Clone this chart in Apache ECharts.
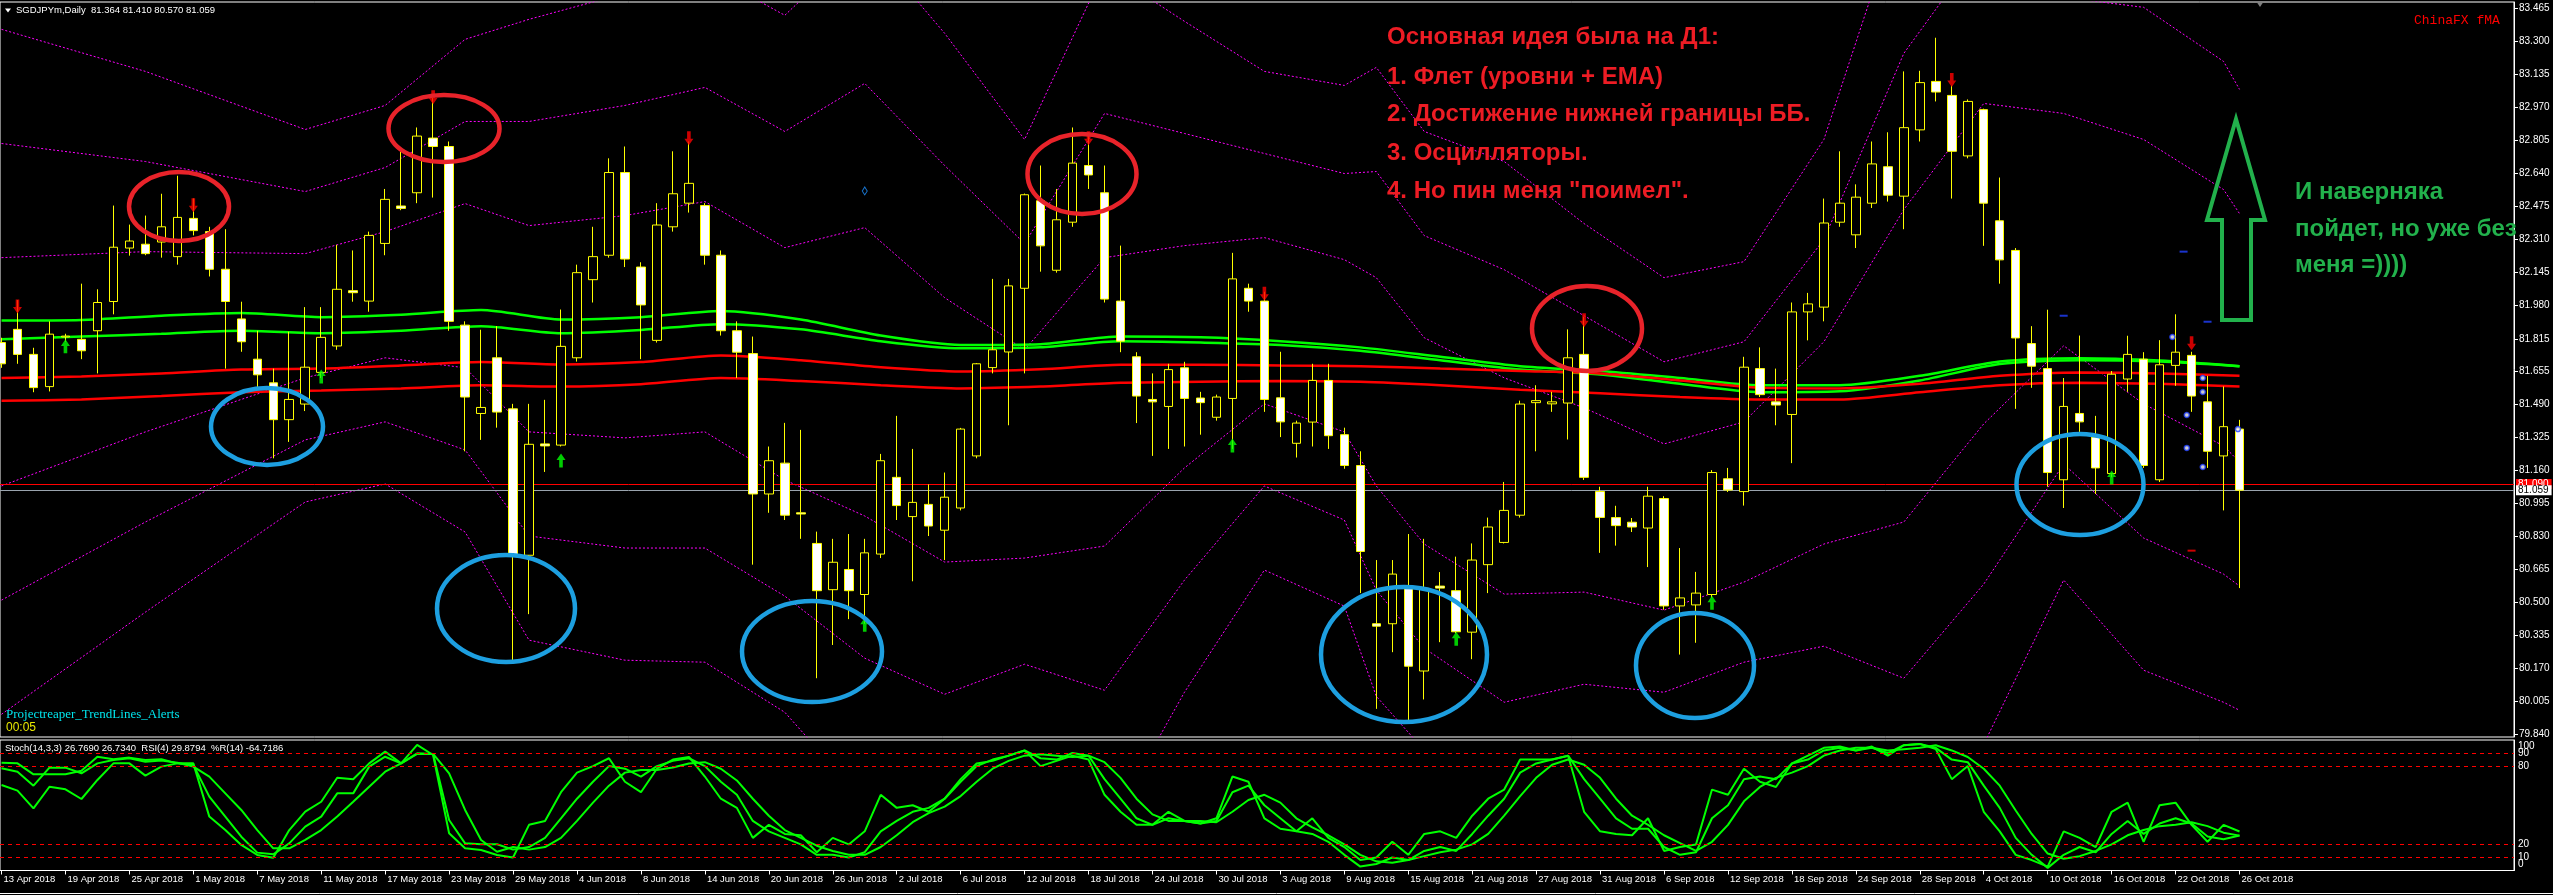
<!DOCTYPE html>
<html><head><meta charset="utf-8"><title>SGDJPYm Daily</title>
<script src="https://cdn.jsdelivr.net/npm/echarts@6.0.0/dist/echarts.min.js"></script>
<style>html,body{margin:0;padding:0;background:#000;overflow:hidden}#chart{width:2553px;height:895px}</style>
</head><body><div id="chart"></div>
<script>
// ---------------- DATA ----------------
const xTickLabels = ["13 Apr 2018","19 Apr 2018","25 Apr 2018","1 May 2018","7 May 2018","11 May 2018","17 May 2018","23 May 2018","29 May 2018","4 Jun 2018","8 Jun 2018","14 Jun 2018","20 Jun 2018","26 Jun 2018","2 Jul 2018","6 Jul 2018","12 Jul 2018","18 Jul 2018","24 Jul 2018","30 Jul 2018","3 Aug 2018","9 Aug 2018","15 Aug 2018","21 Aug 2018","27 Aug 2018","31 Aug 2018","6 Sep 2018","12 Sep 2018","18 Sep 2018","24 Sep 2018","28 Sep 2018","4 Oct 2018","10 Oct 2018","16 Oct 2018","22 Oct 2018","26 Oct 2018"];
const yTickLabels = ["83.465","83.300","83.135","82.970","82.805","82.640","82.475","82.310","82.145","81.980","81.815","81.655","81.490","81.325","81.160","80.995","80.830","80.665","80.500","80.335","80.170","80.005","79.840"];
const oscInnerTicks = [10,20,80,90];
const oscEdgeTicks = ["0","100"];
const oscLevels = [10,20,80,90];

const open = [81.796,81.862,81.737,81.576,81.824,81.812,81.855,82.001,82.268,82.287,
82.298,82.225,82.416,82.35,82.162,81.914,81.713,81.595,81.411,81.489,
81.647,81.779,82.055,82.003,82.291,82.478,82.544,82.817,82.775,81.883,
81.442,81.72,81.465,80.734,81.29,81.284,81.72,82.11,82.232,82.645,
82.173,81.807,82.374,82.492,82.48,82.232,81.855,81.741,81.04,81.194,
80.946,80.793,80.562,80.663,80.538,80.74,81.123,80.927,80.988,80.859,
80.97,81.23,81.671,81.749,82.067,82.504,82.157,82.397,82.68,82.544,
82.003,81.725,81.512,81.477,81.67,81.519,81.423,81.517,82.067,82.003,
81.52,81.293,81.399,81.607,81.336,81.182,80.392,80.392,80.569,80.156,
80.58,80.557,80.35,80.687,80.798,80.934,81.496,81.49,81.494,81.737,
81.052,80.922,80.899,80.87,81.017,80.481,80.486,80.538,81.116,81.052,
81.666,81.5,81.437,81.949,81.973,82.397,82.334,82.492,82.674,82.527,
82.858,83.1,83.03,82.728,82.959,82.404,82.256,81.791,81.666,81.111,
81.442,81.324,81.142,81.614,81.713,81.111,81.682,81.732,81.5,81.23,
81.364];
const close = [81.690,81.737,81.571,81.838,81.828,81.755,81.996,82.272,82.303,82.24,
82.374,82.421,82.355,82.162,82.001,81.80,81.635,81.411,81.512,81.673,
81.822,82.062,82.045,82.331,82.511,82.466,82.827,82.775,81.902,81.524,
81.472,81.449,80.734,81.288,81.28,81.777,82.145,82.225,82.645,82.213,
81.984,82.383,82.539,82.591,82.232,81.855,81.748,81.04,81.206,80.934,
80.94,80.557,80.699,80.557,80.746,81.206,80.982,80.998,80.88,81.024,
81.364,81.69,81.76,82.079,82.534,82.279,82.409,82.692,82.633,82.013,
81.803,81.529,81.5,81.661,81.517,81.496,81.524,82.114,82.003,81.512,
81.40,81.394,81.607,81.331,81.182,80.753,80.38,80.64,80.18,80.569,
80.57,80.352,80.71,80.875,80.958,81.489,81.506,81.5,81.72,81.123,
80.923,80.882,80.875,81.029,80.481,80.521,80.545,81.147,81.06,81.673,
81.536,81.484,81.949,81.989,82.393,82.492,82.522,82.688,82.532,82.869,
83.094,83.047,82.751,83.0,82.492,82.209,81.819,81.678,81.147,81.477,
81.4,81.17,81.638,81.737,81.182,81.685,81.748,81.529,81.253,81.376,
81.059];
const high = [81.82,82.008,81.77,81.902,81.84,82.09,82.062,82.48,82.385,82.43,
82.539,82.629,82.515,82.374,82.362,82.0,81.855,81.666,81.85,81.973,
81.973,82.284,82.256,82.35,82.563,82.75,82.87,83.018,82.80,81.902,
81.86,81.878,81.49,81.49,81.51,81.961,82.185,82.374,82.716,82.775,
82.197,82.492,82.751,82.80,82.492,82.256,81.902,81.826,81.277,81.395,
81.36,80.852,80.816,80.84,80.816,81.24,81.43,81.265,81.088,81.147,
81.37,81.694,82.114,82.114,82.54,82.68,82.563,82.87,82.846,82.68,
82.28,81.748,81.642,81.69,81.70,81.55,81.536,82.244,82.09,82.05,
81.75,81.406,81.69,81.69,81.371,81.253,80.71,80.71,80.84,80.816,
80.65,80.727,80.793,80.922,81.1,81.506,81.583,81.55,81.862,81.925,
81.076,80.981,80.92,81.076,81.029,80.77,80.651,81.159,81.17,81.725,
81.772,81.666,81.996,82.044,82.515,82.751,82.586,82.80,82.846,83.15,
83.153,83.318,83.08,83.01,82.964,82.62,82.268,81.878,81.96,81.619,
81.831,81.43,81.654,81.83,81.748,81.808,81.937,81.75,81.63,81.577,
81.41];
const low = [81.67,81.69,81.548,81.552,81.80,81.713,81.642,81.937,82.23,82.232,
82.22,82.185,82.331,82.126,81.666,81.75,81.572,81.218,81.30,81.454,
81.619,81.76,82.0,81.95,82.232,82.457,82.492,82.52,81.855,81.253,
81.31,81.371,80.203,80.44,81.15,81.277,81.701,81.996,82.22,82.173,
81.713,81.796,82.35,82.445,82.185,81.831,81.619,80.687,80.946,80.91,
80.816,80.12,80.286,80.415,80.392,80.72,80.91,80.604,80.83,80.71,
80.958,81.218,81.642,81.383,81.642,82.15,82.145,82.374,82.563,81.996,
81.748,81.394,81.23,81.265,81.277,81.336,81.406,81.265,81.95,81.45,
81.324,81.222,81.277,81.265,81.166,80.545,79.967,80.25,79.91,80.014,
80.30,80.344,80.215,80.545,80.793,80.922,81.253,81.45,81.312,81.11,
80.746,80.782,80.85,80.675,80.462,80.238,80.297,80.522,81.05,80.982,
81.524,81.383,81.194,81.807,81.902,82.374,82.268,82.468,82.5,82.362,
82.8,83.0,82.515,82.716,82.279,82.09,81.465,81.57,81.076,80.97,
81.35,81.04,81.123,81.55,81.17,81.1,81.58,81.45,81.17,80.958,
80.57];

// moving averages, read every 5 bars
const maBars = [0,5,10,15,20,25,30,35,40,45,50,55,60,65,70,75,80,85,90,95,100,105,110,115,120,125,130,135,140];
const maGreenFast = [81.906,81.909,81.930,81.944,81.923,81.935,81.958,81.911,81.923,81.954,81.911,81.831,81.784,81.788,81.826,81.822,81.803,81.772,81.725,81.678,81.654,81.619,81.583,81.583,81.630,81.701,81.718,81.706,81.678];
const maGreenSlow = [81.812,81.826,81.840,81.855,81.843,81.855,81.878,81.843,81.859,81.888,81.862,81.803,81.767,81.772,81.803,81.796,81.784,81.755,81.708,81.661,81.637,81.590,81.548,81.553,81.607,81.689,81.708,81.701,81.678];
const maRedFast = [81.619,81.626,81.642,81.661,81.666,81.682,81.699,81.687,81.699,81.732,81.708,81.673,81.652,81.663,81.685,81.685,81.682,81.678,81.666,81.654,81.642,81.607,81.571,81.567,81.590,81.630,81.647,81.642,81.630];
const maRedSlow = [81.505,81.512,81.529,81.548,81.557,81.567,81.583,81.576,81.588,81.619,81.604,81.583,81.567,81.576,81.595,81.600,81.604,81.600,81.583,81.560,81.543,81.524,81.512,81.512,81.548,81.583,81.595,81.590,81.576];

// bands (magenta dotted lines), read at these bars
const bandBars = [0,9,19,24,29,33,39,44,49,54,59,64,69,74,79,84,86,89,94,99,104,109,114,119,124,129,134,139,140];
const bandUp1 = [82.22,82.25,82.24,82.35,82.49,82.38,82.43,82.50,82.27,82.37,82.02,81.76,82.22,82.28,82.32,82.21,82.12,81.82,81.62,81.47,81.29,81.40,81.80,82.46,82.99,82.94,82.81,82.56,82.44];
const bandUp2 = [82.79,82.70,82.55,82.67,82.90,82.90,82.98,83.07,82.85,83.09,82.68,82.29,82.94,82.84,82.74,82.64,82.65,82.33,82.16,81.93,81.70,81.80,82.31,83.24,83.79,83.52,83.47,83.20,83.06];
const bandUp3 = [83.36,83.15,82.86,82.98,83.31,83.41,83.54,83.65,83.43,83.81,83.34,82.81,83.66,83.40,83.15,83.08,83.17,82.85,82.70,82.39,82.12,82.20,82.81,84.02,84.59,84.11,84.13,83.84,83.68];
const bandLo1 = [81.08,81.35,81.62,81.72,81.67,81.35,81.32,81.35,81.11,80.93,80.70,80.72,80.78,81.17,81.49,81.35,81.08,80.79,80.54,80.55,80.46,80.60,80.79,80.90,81.39,81.78,81.49,81.28,81.20];
const bandLo2 = [80.51,80.90,81.31,81.40,81.26,80.83,80.77,80.77,80.53,80.22,80.04,80.19,80.06,80.61,81.08,80.91,80.56,80.27,80.00,80.09,80.05,80.20,80.28,80.12,80.59,81.19,80.82,80.64,80.58];
const bandLo3 = [79.94,80.45,81.00,81.09,80.85,80.31,80.21,80.20,79.95,79.50,79.38,79.67,79.34,80.05,80.66,80.48,80.03,79.76,79.45,79.63,79.63,79.80,79.77,79.34,79.79,80.61,80.16,80.00,79.96];

const sellArrows = [[1,81.976],[12,82.482],[27,83.021],[43,82.816],[68,82.816],[79,82.04],[99,81.907],[122,83.107],[137,81.792]];
const buyArrows = [[4,81.777],[20,81.627],[35,81.207],[54,80.387],[77,81.282],[91,80.317],[107,80.497],[132,81.122]];
// small trend-line indicator marks near the last bars
const trendDots = [[135.8,81.824],[136.7,81.434],[136.7,81.27],[137.7,81.619],[137.7,81.549],[137.7,81.175],[139.9,81.364]];
const blueDashes = [[136.5,82.25],[129,81.93],[138,81.90]];
const redDashes = [[137,80.757]];
const levelLine = 81.090;
const bidLine = 81.059;

const rsi4 = [65.5,61.2,47.6,64.2,62.2,54.8,69.4,82.1,82.1,72.7,
79.6,82.1,82.1,41.3,31.0,19.6,11.9,9.8,31.0,45.1,
52.7,71.1,69.9,82.1,91.1,82.1,96.2,88.5,28.5,17.0,
15.7,11.9,10,35,38,60,75,80,86,68,
60,78,85,87,72,55,48,25,35,28,
27,14,25,20,30,58,48,50,45,55,
70,82,84,88,92,80,84,88,85,58,
45,35,35,45,38,36,40,72,68,40,
32,30,40,25,18,8,10,22,12,28,
30,25,42,55,62,85,85,85,88,45,
30,28,27,40,15,18,20,62,58,78,
68,64,82,85,92,94,92,95,88,96,
97,93,70,80,45,30,12,8,3,30,
25,18,45,52,22,50,52,35,22,35,
29.88];
const stochMain = [82.6,82.1,73.7,73.7,73.7,76.5,87.2,85.2,86.5,84.7,
85.2,82.1,80.8,56.6,41.3,25.9,13.7,12.4,20.8,33.6,
41.3,59.1,59.1,79.6,87.2,82.1,89.8,89.3,38.7,20.8,
20.1,20.1,16,18,25,40,55,68,80,78,
72,80,84,86,80,68,58,38,30,25,
20,12,12,10,14,30,38,45,48,55,
68,80,85,88,92,86,85,90,88,70,
55,40,35,40,38,36,38,60,65,50,
40,30,28,22,12,3,5,10,8,15,
18,15,28,42,55,75,82,85,88,70,
55,40,32,32,18,12,14,40,50,70,
72,70,82,88,94,95,92,94,90,96,
97,94,85,83,65,48,25,12,2,12,
18,14,28,38,28,36,40,36,26,24,
26.77];
const stochSignal = [78.3,75.7,65.0,78.8,78.8,74.5,82.1,84.7,86.0,83.4,
84.2,82.6,79.6,71.9,59.1,46.4,31.0,17.0,17.0,23.4,
31.0,41.3,52.7,64.2,75.7,82.1,89.3,89.3,74.5,46.4,
23.4,14.4,18,16,18,25,38,52,65,75,
77,77,79,82,83,78,69,55,42,31,
25,19,15,12,12,18,27,37,44,49,
57,68,78,84,88,89,88,87,88,83,
71,55,43,38,38,38,37,45,54,58,
52,40,33,27,20,12,7,6,8,11,
14,16,20,28,42,57,71,81,85,81,
71,55,42,35,27,21,15,22,35,53,
64,71,75,80,88,92,94,94,92,93,
94,96,92,87,78,65,46,28,13,9,
11,15,20,27,31,34,35,37,34,29,
26.73];

// ---------------- CHART ----------------
const chart = echarts.init(document.getElementById('chart'), null, {renderer:'canvas', width:2553, height:895});
const FONT = "'Liberation Sans',Arial,sans-serif";
const X_MIN = -0.094, X_MAX = 157.17;
const xTickPos = xTickLabels.map((_, k) => k * 4);
const yTickVals = yTickLabels.map(Number);
// MT4 prints the window's 0 / 100 captions just inside the frame
const oscEdgePos = [4.6, 95.4];
const pairs = (xs, ys) => xs.map((x, k) => [x, ys[k]]);
const idx = a => a.map((v, i) => [i, v]);
const candles = open.map((o, i) => [i, o, close[i], low[i], high[i]]);

function bandSeries(arr) {
  return {type:'line', xAxisIndex:0, yAxisIndex:0, data:pairs(bandBars, arr), showSymbol:false, silent:true,
    lineStyle:{color:'#FF00FF', width:1, type:[2,2]}, z:1};
}
function maSeries(arr, color) {
  return {type:'line', xAxisIndex:0, yAxisIndex:0, data:pairs(maBars, arr), showSymbol:false, silent:true, smooth:0.25,
    lineStyle:{color:color, width:2.5}, z:2};
}
function oscSeries(arr, extra) {
  return Object.assign({type:'line', xAxisIndex:1, yAxisIndex:1, data:idx(arr), showSymbol:false, silent:true,
    lineStyle:{color:'#00FF00', width:2}, z:3}, extra || {});
}

const redC = '#E8232A', blueC = '#1D9FE0';
const ellipses = [
  [179,206.5,50,34.5,redC],[444,128.5,55.5,33.5,redC],[1082,174,54.5,40,redC],[1587,328.5,55,42.5,redC],
  [267,426.5,56,38.5,blueC],[506,608.5,69,53.5,blueC],[812,651.5,70,50.5,blueC],[1404,654.5,83,67.5,blueC],
  [1695,665.5,59,52.5,blueC],[2080,484.5,63.5,50.5,blueC]
];
const redLines = ["Основная идея была на Д1:","1. Флет (уровни + EMA)","2. Достижение нижней границы ББ.","3. Осцилляторы.","4. Но пин меня \"поимел\"."];
const redY = [37.5,77,114.5,153.5,191];
const greenLines = ["И наверняка","пойдет, но уже без","меня =))))"];
const greenY = [192,229,265];

const graphics = [];
ellipses.forEach(e => graphics.push({type:'ellipse', shape:{cx:e[0], cy:e[1], rx:e[2], ry:e[3]}, style:{fill:null, stroke:e[4], lineWidth:4.5}, z:60, silent:true}));
redLines.forEach((t,k) => graphics.push({type:'text', x:1387, y:redY[k], style:{text:t, fill:'#ED1C24', font:"bold 24px 'Liberation Sans',Arial,sans-serif", verticalAlign:'middle'}, z:70, silent:true}));
greenLines.forEach((t,k) => graphics.push({type:'text', x:2295, y:greenY[k], style:{text:t, fill:'#22B14C', font:"bold 24px 'Liberation Sans',Arial,sans-serif", verticalAlign:'middle'}, z:70, silent:true}));
graphics.push({type:'polygon', shape:{points:[[2236,119],[2265,220],[2251,220],[2251,320],[2222,320],[2222,220],[2207,220]]}, style:{fill:null, stroke:'#22B14C', lineWidth:4}, z:65, silent:true});
graphics.push({type:'polygon', shape:{points:[[5,8.5],[11,8.5],[8,12.5]]}, style:{fill:'#fff'}, z:70, silent:true});
graphics.push({type:'text', x:16, y:10.5, style:{text:'SGDJPYm,Daily  81.364 81.410 80.570 81.059', fill:'#fff', font:"9.5px " + FONT, verticalAlign:'middle'}, z:70, silent:true});
graphics.push({type:'text', x:2414, y:20.5, style:{text:'ChinaFX fMA', fill:'#FF0000', font:"13px 'Liberation Mono','Courier New',monospace", verticalAlign:'middle'}, z:70, silent:true});
graphics.push({type:'text', x:6, y:715, style:{text:'Projectreaper_TrendLines_Alerts', fill:'#00E5EE', font:"13px 'Liberation Serif','Times New Roman',serif", verticalAlign:'middle'}, z:70, silent:true});
graphics.push({type:'text', x:6, y:727.5, style:{text:'00:05', fill:'#E6E600', font:"12px 'Liberation Sans',Arial,sans-serif", verticalAlign:'middle'}, z:70, silent:true});
graphics.push({type:'text', x:5, y:748, style:{text:'Stoch(14,3,3) 26.7690 26.7340  RSI(4) 29.8794  %R(14) -64.7186', fill:'#fff', font:"9.5px " + FONT, verticalAlign:'middle'}, z:70, silent:true});
graphics.push({type:'polygon', shape:{points:[[2256,1],[2264,1],[2260,7]]}, style:{fill:'#808080'}, z:70, silent:true});
graphics.push({type:'line', shape:{x1:0, y1:893.5, x2:2553, y2:893.5}, style:{stroke:'#fff', lineWidth:1}, z:70, silent:true});

const option = {
  backgroundColor:'#000000',
  animation:false,
  grid:[
    {left:0, right:39, top:2, bottom:158, show:true, borderColor:'#FFFFFF', borderWidth:1, backgroundColor:'transparent'},
    {left:0, right:39, top:740, bottom:24.5, show:true, borderColor:'#FFFFFF', borderWidth:1, backgroundColor:'transparent'}
  ],
  xAxis:[
    {type:'value', gridIndex:0, min:X_MIN, max:X_MAX, axisLine:{show:false}, axisTick:{show:false}, axisLabel:{show:false}, splitLine:{show:false}},
    {type:'value', gridIndex:1, min:X_MIN, max:X_MAX,
      axisLine:{show:true, onZero:false, lineStyle:{color:'#FFFFFF', width:1}},
      axisTick:{show:true, customValues:xTickPos, length:4, lineStyle:{color:'#FFFFFF'}},
      axisLabel:{show:true, customValues:xTickPos, formatter:v => xTickLabels[Math.round(v/4)] || '', align:'left', margin:4, color:'#FFFFFF', fontFamily:FONT, fontSize:9.5, padding:[0,0,0,2], hideOverlap:false},
      splitLine:{show:false}}
  ],
  yAxis:[
    {type:'value', gridIndex:0, position:'right', min:79.8265, max:83.4965,
      axisLine:{show:true, onZero:false, lineStyle:{color:'#FFFFFF'}},
      axisTick:{show:true, customValues:yTickVals, length:4, lineStyle:{color:'#FFFFFF'}},
      axisLabel:{show:true, customValues:yTickVals, formatter:v => v.toFixed(3), margin:5, color:'#FFFFFF', fontFamily:FONT, fontSize:10, hideOverlap:false},
      splitLine:{show:false}},
    {type:'value', gridIndex:1, position:'right', min:0, max:100,
      axisLine:{show:true, onZero:false, lineStyle:{color:'#FFFFFF'}},
      axisTick:{show:false},
      axisLabel:{show:true, customValues:oscInnerTicks, margin:4, color:'#FFFFFF', fontFamily:FONT, fontSize:10, hideOverlap:false},
      splitLine:{show:false}},
    {type:'value', gridIndex:1, position:'right', min:0, max:100,
      axisLine:{show:false}, axisTick:{show:false},
      axisLabel:{show:true, customValues:oscEdgePos, margin:4, color:'#FFFFFF', fontFamily:FONT, fontSize:10, hideOverlap:false,
        formatter:v => oscEdgeTicks[oscEdgePos.indexOf(v)]},
      splitLine:{show:false}}
  ],
  series:[
    bandSeries(bandUp3), bandSeries(bandUp2), bandSeries(bandUp1),
    bandSeries(bandLo1), bandSeries(bandLo2), bandSeries(bandLo3),
    maSeries(maGreenFast, '#00FF00'), maSeries(maGreenSlow, '#00FF00'),
    maSeries(maRedFast, '#FF0000'), maSeries(maRedSlow, '#FF0000'),
    {type:'candlestick', xAxisIndex:0, yAxisIndex:0, data:candles, barWidth:9, silent:true, z:5,
      dimensions:['i','open','close','low','high'], encode:{x:'i', y:['open','close','low','high']},
      itemStyle:{color:'#000000', color0:'#FFFFFF', borderColor:'#FFFF00', borderColor0:'#FFFF00', borderColorDoji:'#FFFF00', borderWidth:1},
      markLine:{symbol:'none', silent:true, animation:false, precision:3,
        data:[
          {yAxis:levelLine, lineStyle:{color:'#FF0000', width:1, type:'solid'},
            label:{show:true, position:'end', distance:2, formatter:'81.090', backgroundColor:'#FF0000', color:'#FFFFFF', fontFamily:FONT, fontSize:10, padding:[0,3,0,2]}},
          {yAxis:bidLine, lineStyle:{color:'#9AA4AE', width:1, type:'solid'},
            label:{show:true, position:'end', distance:2, formatter:'81.059', backgroundColor:'#FFFFFF', color:'#000000', fontFamily:FONT, fontSize:10, padding:[0,3,0,2]}}
        ]}},
    {type:'scatter', xAxisIndex:0, yAxisIndex:0, data:sellArrows, symbol:'path://M3,0L7,0L7,8L10,8L5,15L0,8L3,8Z', symbolSize:[9,14], itemStyle:{color:'#FF0000'}, silent:true, z:6},
    {type:'scatter', xAxisIndex:0, yAxisIndex:0, data:buyArrows, symbol:'path://M5,0L10,7L7,7L7,15L3,15L3,7L0,7Z', symbolSize:[9,14], itemStyle:{color:'#00FF00'}, silent:true, z:6},
    {type:'scatter', xAxisIndex:0, yAxisIndex:0, data:[[54,82.553]], symbol:'diamond', symbolSize:[5,8], itemStyle:{color:'transparent', borderColor:'#1E90FF', borderWidth:1}, silent:true, z:6},
    {type:'scatter', xAxisIndex:0, yAxisIndex:0, data:trendDots, symbol:'circle', symbolSize:5, itemStyle:{color:'#FFFFFF', borderColor:'#2040FF', borderWidth:1.5}, silent:true, z:7},
    {type:'scatter', xAxisIndex:0, yAxisIndex:0, data:blueDashes, symbol:'rect', symbolSize:[8,2], itemStyle:{color:'#2040FF'}, silent:true, z:6},
    {type:'scatter', xAxisIndex:0, yAxisIndex:0, data:redDashes, symbol:'rect', symbolSize:[8,2], itemStyle:{color:'#FF0000'}, silent:true, z:6},
    oscSeries(stochMain, {markLine:{symbol:'none', silent:true, animation:false, label:{show:false},
      lineStyle:{color:'#FF0000', width:1, type:[4,4]}, data:oscLevels.map(v => ({yAxis:v}))}}),
    oscSeries(stochSignal),
    oscSeries(rsi4)
  ],
  graphic:graphics
};
chart.setOption(option);
</script></body></html>
